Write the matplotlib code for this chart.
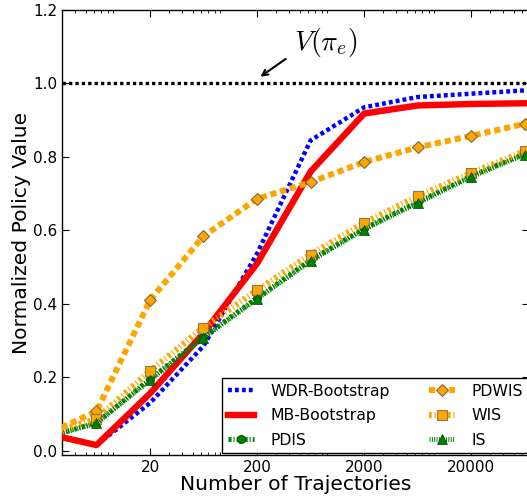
import numpy as np
import matplotlib
matplotlib.use("Agg")
import matplotlib.pyplot as plt

plt.rcParams['lines.scale_dashes'] = False
plt.rcParams['mathtext.fontset'] = 'cm'
plt.rcParams['font.family'] = ['DejaVu Sans']

# number of trajectories (half-decade steps), first one sits left of the axis
n_traj = [2, 6.3, 20, 63, 200, 632, 2000, 6325, 20000, 63246]

wdr_boot = [0.045, 0.015, 0.13, 0.285, 0.537, 0.845, 0.935, 0.963, 0.972, 0.981]
mb_boot = [0.048, 0.015, 0.156, 0.32, 0.51, 0.76, 0.918, 0.94, 0.944, 0.946]
pdis = [0.034, 0.076, 0.195, 0.31, 0.416, 0.519, 0.605, 0.677, 0.748, 0.809]
pdwis = [0.04, 0.107, 0.41, 0.584, 0.686, 0.731, 0.786, 0.826, 0.857, 0.89]
wis = [0.038, 0.087, 0.217, 0.335, 0.437, 0.534, 0.62, 0.693, 0.756, 0.815]
is_ = [0.033, 0.074, 0.192, 0.307, 0.413, 0.516, 0.602, 0.674, 0.745, 0.806]

true_value = 1.0
xticks = [20, 200, 2000, 20000]
yticks = [0.0, 0.2, 0.4, 0.6, 0.8, 1.0, 1.2]

W, H = 527, 499
fig = plt.figure(figsize=(W / 100, H / 100), dpi=100)
# right spine sits just past the picture edge, as in the reference
left, right, top, bottom = 62, 529, 10, 455
ax = fig.add_axes([left / W, 1 - bottom / H, (right - left) / W, (bottom - top) / H])

ax.plot([1, 1e6], [true_value, true_value], color='black', lw=2.4,
        dashes=(2.4, 2.2), zorder=1)

ax.plot(n_traj, wdr_boot, color='blue', lw=3.2, dashes=(2.8, 2.2),
        label='WDR-Bootstrap', zorder=2)
ax.plot(n_traj, mb_boot, color='red', lw=4.6, label='MB-Bootstrap', zorder=3)
ax.plot(n_traj, pdis, color='green', lw=3.5, dashes=(2.2, 1.4, 0.8, 1.4),
        marker='o', ms=6, mec='#004000', mew=0.5, label='PDIS', zorder=4)
ax.plot(n_traj, pdwis, color='orange', lw=4.3, dashes=(4.5, 2.8),
        marker='D', ms=6.6, mec='#7a6a40', mew=0.8, label='PDWIS', zorder=5)
ax.plot(n_traj, wis, color='orange', lw=4.5, dashes=(2.0, 2.0, 0.8, 2.0),
        marker='s', ms=7, mec='#8a7a50', mew=0.8, label='WIS', zorder=6)
ax.plot(n_traj, is_, color='green', lw=3.5, dashes=(0.7, 1.0),
        marker='^', ms=6.5, mec='#004000', mew=0.5, label='IS', zorder=7)

ax.set_xscale('log')
ax.set_xlim(3.0, 3.0 * 10 ** ((right - left) / 107))
ax.set_ylim(-0.012, 1.2)
ax.set_xticks(xticks)
ax.set_xticklabels([str(t) for t in xticks])
ax.set_yticks(yticks)
ax.set_yticklabels(['%.1f' % t for t in yticks])
ax.tick_params(which='both', direction='in', top=True, right=True, labelsize=11)
ax.tick_params(which='major', length=5, width=0.8)
ax.tick_params(which='minor', length=2.5, width=0.6)
for s in ax.spines.values():
    s.set_linewidth(1.0)
    s.set_color('black')

ax.set_xlabel('Number of Trajectories', fontsize=14.6, labelpad=0)
ax.set_ylabel('Normalized Policy Value', fontsize=14.6, labelpad=1)

# V(pi_e) label with arrow to the dotted line
ax.annotate('', xy=(204, 1.014), xytext=(388, 1.071),
            arrowprops=dict(arrowstyle='->', lw=1.5, color='black'))
ax.text(880, 1.111, r'$V(\pi_e)$', fontsize=20, ha='center', va='center')

leg = ax.legend(ncol=2, loc='lower left', bbox_to_anchor=(0.343, 0.004),
                fontsize=11.3, handlelength=1.7, handletextpad=1.0,
                columnspacing=2.5, labelspacing=0.6, borderpad=0.35,
                borderaxespad=0.0, fancybox=False, framealpha=1,
                edgecolor='black')
leg.get_frame().set_linewidth(1.0)

fig.savefig('out.png', dpi=100)
